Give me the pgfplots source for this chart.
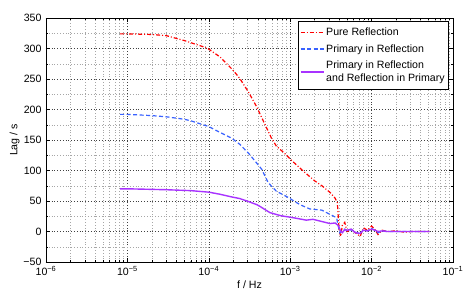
\documentclass[border=0pt]{standalone}
\usepackage{fontspec}
\setmainfont{Liberation Sans}
\usepackage{pgfplots}
\pgfplotsset{compat=1.18}
\definecolor{cred}{rgb}{1,0,0}
\definecolor{cblue}{rgb}{0.22,0.38,1}
\definecolor{cpurp}{rgb}{0.66,0.2,1}
\newcommand{\fs}{\fontsize{10.6bp}{12.8bp}\selectfont}
\begin{document}
\begin{tikzpicture}
\useasboundingbox (-46bp,-37bp) rectangle (417bp,262bp);
\begin{axis}[
  at={(0,0)}, anchor=south west,
  scale only axis, width=407bp, height=244bp,
  xmode=log, xmin=1e-6, xmax=1e-1, ymin=-50, ymax=350,
  xtick={1e-6,1e-5,1e-4,1e-3,1e-2,1e-1},
  xticklabels={10\textsuperscript{−6},10\textsuperscript{−5},10\textsuperscript{−4},10\textsuperscript{−3},10\textsuperscript{−2},10\textsuperscript{−1}},
  minor xtick={2e-6,3e-6,4e-6,5e-6,6e-6,7e-6,8e-6,9e-6,
               2e-5,3e-5,4e-5,5e-5,6e-5,7e-5,8e-5,9e-5,
               2e-4,3e-4,4e-4,5e-4,6e-4,7e-4,8e-4,9e-4,
               2e-3,3e-3,4e-3,5e-3,6e-3,7e-3,8e-3,9e-3,
               2e-2,3e-2,4e-2,5e-2,6e-2,7e-2,8e-2,9e-2},
  ytick={-50,0,50,100,150,200,250,300,350},
  yticklabels={−50,0,50,100,150,200,250,300,350},
  minor ytick={-25,25,75,125,175,225,275,325},
  tick align=inside,
  major tick length=4bp, minor tick length=2bp,
  tick style={black, line width=0.4bp},
  axis line style={black, line width=0.5bp},
  grid=both,
  major grid style={black!75, dash pattern=on 0.8bp off 2bp, line width=0.5bp},
  minor grid style={black!35, dash pattern=on 0.8bp off 2bp, line width=0.5bp},
  tick label style={font=\fs},
  xticklabel style={yshift=-1bp},
  yticklabel style={xshift=-1bp},
  label style={font=\fs},
  xlabel={f / Hz}, ylabel={Lag / s},
  xlabel style={yshift=2bp},
  ylabel style={yshift=-3bp},
  legend style={font=\fs, at={(0.990,0.986)}, anchor=north east,
    draw=black, line width=0.6bp, inner xsep=2bp, inner ysep=4bp,
    cells={anchor=west, align=left}, row sep=3.5bp},
  legend image code/.code={\draw[#1] (0bp,0bp) -- (23bp,0bp);},
]
\addplot[cred, line width=1.2bp, dash pattern=on 4bp off 2bp on 1bp off 2bp] coordinates {
(8.13e-6,324) (1e-5,324) (2e-5,323) (3.02e-5,321) (5.01e-5,313) (6.17e-5,309)
(8.51e-5,303) (1e-4,299) (1.10e-4,295) (1.38e-4,286) (1.66e-4,275) (2.0e-4,264)
(2.40e-4,251) (3.09e-4,228) (3.89e-4,204) (4.68e-4,181) (5.89e-4,153) (6.76e-4,140)
(8.32e-4,129.5) (1.05e-3,116) (1.45e-3,99) (2.0e-3,83) (2.45e-3,75) (3.09e-3,64)
(3.55e-3,55) (3.80e-3,47) (3.89e-3,25) (3.98e-3,3) (4.17e-3,-8) (4.37e-3,10)
(4.68e-3,15) (5.01e-3,0) (5.62e-3,3) (6.31e-3,-2) (7.24e-3,-8) (7.94e-3,6)
(8.91e-3,2) (1e-2,9) (1.10e-2,3) (1.20e-2,-5) (1.35e-2,2) (1.55e-2,0)
(2.0e-2,1) (2.51e-2,-1) (3.16e-2,0) (3.98e-2,0) (5.13e-2,0)
};
\addlegendentry{Pure Reflection}
\addplot[cblue, line width=1.2bp, dash pattern=on 4bp off 2.5bp] coordinates {
(8.13e-6,192) (1e-5,192) (2e-5,190) (3.02e-5,188) (5.01e-5,184) (6.17e-5,181)
(8.51e-5,175) (1e-4,172) (1.26e-4,165) (1.91e-4,153) (2.40e-4,143) (3.09e-4,128)
(3.89e-4,112) (4.47e-4,102) (5.37e-4,80) (6.76e-4,66) (9.12e-4,57) (1.32e-3,44)
(1.74e-3,37) (2.45e-3,35) (3.09e-3,28) (3.72e-3,22.5) (3.89e-3,9) (4.07e-3,-2)
(4.37e-3,2) (4.68e-3,4) (5.01e-3,1) (5.62e-3,3) (6.31e-3,-1) (7.24e-3,-4)
(7.94e-3,3) (8.91e-3,1) (1e-2,5) (1.10e-2,2) (1.20e-2,-2) (1.35e-2,1)
(1.55e-2,0) (2.0e-2,0) (3.16e-2,0) (5.13e-2,0)
};
\addlegendentry{Primary in Reflection}
\addplot[cpurp, line width=1.4bp] coordinates {
(8.13e-6,70) (1e-5,70) (3e-5,68.5) (6e-5,67) (1e-4,64.5) (1.38e-4,61)
(1.86e-4,57) (2.40e-4,54) (3.09e-4,49) (3.89e-4,44) (4.27e-4,41) (5.62e-4,31)
(7.59e-4,26) (1.10e-3,22.5) (1.58e-3,18.6) (1.91e-3,20) (2.34e-3,17) (3.09e-3,13)
(3.55e-3,14) (3.89e-3,10) (4.17e-3,0.5) (4.37e-3,-2) (4.68e-3,3) (5.01e-3,2)
(5.62e-3,4) (6.31e-3,-2) (7.24e-3,-3) (7.94e-3,2) (8.91e-3,1) (1e-2,4)
(1.10e-2,2) (1.20e-2,0) (1.35e-2,1) (1.55e-2,0) (2.0e-2,0) (3.16e-2,0) (5.13e-2,0)
};
\addlegendentry{Primary in Reflection\\and Reflection in Primary}
\end{axis}
\end{tikzpicture}
\end{document}
